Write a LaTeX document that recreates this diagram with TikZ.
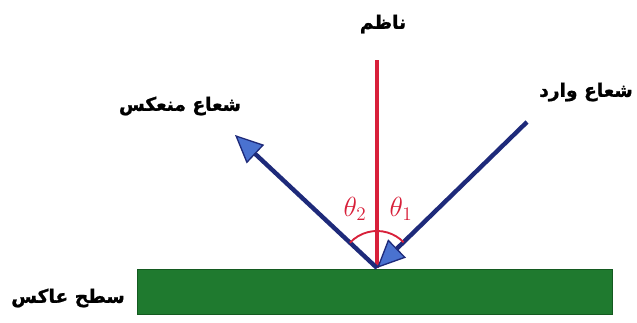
\documentclass[tikz,border=0pt]{standalone}
\usepackage{fontspec}
\newfontfamily\arabicfont[Script=Arabic,FakeBold=1.2]{DejaVu Sans Bold}
\TeXXeTstate=1
\usetikzlibrary{arrows.meta}
\definecolor{rayblue}{HTML}{1E2A7A}
\definecolor{tipblue}{HTML}{4A72D0}
\definecolor{normred}{HTML}{D8203A}
\definecolor{mirgreen}{HTML}{1F7A2F}
\definecolor{mirborder}{HTML}{145A20}
\begin{document}
\begin{tikzpicture}[x=0.75pt,y=0.75pt,
  ray/.style={draw=rayblue,line width=3.3pt,-{Triangle[length=21pt,width=19pt,fill=tipblue,line width=1pt]}},
  lbl/.style={font=\arabicfont\fontsize{14}{16}\selectfont,inner sep=0pt},
  ang/.style={text=normred,font=\fontsize{20}{22}\selectfont,inner sep=0pt}]
\useasboundingbox (0,0) rectangle (637,323);
\fill[white] (0,0) rectangle (637,323);
% mirror
\node[draw=mirborder,fill=mirgreen,line width=1pt,minimum width=475*0.75pt,minimum height=45*0.75pt,inner sep=0pt,anchor=south west] (mirror) at (137,8) {};
\coordinate (O) at (377,55);
\coordinate (A) at (527,201);
\coordinate (B) at (235,188);
\coordinate (N) at (377,263);
% normal
\draw[normred,line width=2.8pt] (O) -- (N);
% rays
\draw[ray] (A) -- (O);
\draw[ray] (O) -- (B);
% angle arc
\draw[normred,line width=1.4pt] (O) ++(44:37) arc[start angle=44,end angle=137,radius=37];
% labels
\node[ang] (t2) at (355,114) {$\theta_2$};
\node[ang] (t1) at (401,114) {$\theta_1$};
\node[lbl] (ln) at (383,299) {\beginR ناظم\endR};
\node[lbl] (lr) at (180,217) {\beginR شعاع منعكس\endR};
\node[lbl] (li) at (586,231) {\beginR شعاع وارد\endR};
\node[lbl] (lm) at (68,25) {\beginR سطح عاكس\endR};
\end{tikzpicture}
\end{document}
